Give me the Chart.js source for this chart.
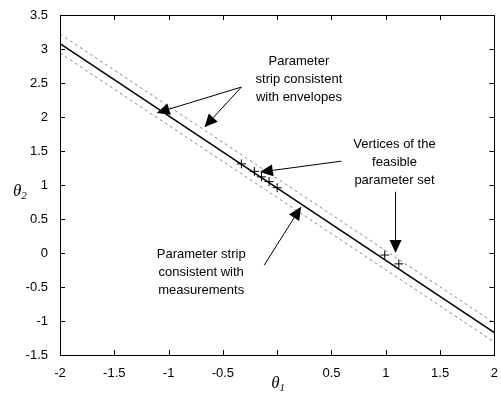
<!DOCTYPE html>
<html>
<head>
<meta charset="utf-8">
<script src="https://cdn.jsdelivr.net/npm/chart.js@4/dist/chart.umd.min.js"></script>
<style>
  html, body { margin: 0; padding: 0; background: #fff; }
  #wrap { width: 501px; height: 394px; }
</style>
</head>
<body>
<div id="wrap"><canvas id="chart" width="501" height="394"></canvas></div>
<script>
// Line end points (theta1 at -2 and 2)
const lineX = [-2, 2];
const centerLine = [3.08, -1.17];
const upperEnvelope = [3.22, -1.03];
const lowerEnvelope = [2.94, -1.31];

// Vertices of the feasible parameter set
const vertexX = [-0.33, -0.21, -0.145, -0.075, 0.0, 0.99, 1.12];
const vertexY = [1.31, 1.2, 1.12, 1.05, 0.96, -0.03, -0.16];

// Tick values and labels
const xTicks = [-2, -1.5, -1, -0.5, 0, 0.5, 1, 1.5, 2];
const xTickLabels = ['-2', '-1.5', '-1', '-0.5', '', '0.5', '1', '1.5', '2'];
const yTicks = [-1.5, -1, -0.5, 0, 0.5, 1, 1.5, 2, 2.5, 3, 3.5];
const yTickLabels = ['-1.5', '-1', '-0.5', '0', '0.5', '1', '1.5', '2', '2.5', '3', '3.5'];

// Text notes with arrows (data coordinates)
const notes = [
  { lines: ['Parameter', 'strip consistent', 'with envelopes'], x: 0.2, y: 2.81,
    arrows: [[-0.33, 2.44, -1.11, 2.06], [-0.33, 2.44, -0.67, 1.85]] },
  { lines: ['Vertices of the', 'feasible', 'parameter set'], x: 1.08, y: 1.59,
    arrows: [[0.59, 1.35, -0.16, 1.19], [1.09, 0.9, 1.09, 0.0]] },
  { lines: ['Parameter strip', 'consistent with', 'measurements'], x: -0.7, y: -0.02,
    arrows: [[-0.12, -0.18, 0.22, 0.68]] }
];

function toPoints(xs, ys) {
  return xs.map((x, i) => ({ x: x, y: ys[i] }));
}

function drawArrow(ctx, x1, y1, x2, y2) {
  const ang = Math.atan2(y2 - y1, x2 - x1);
  const len = 13, half = 6;
  const bx = x2 - len * Math.cos(ang), by = y2 - len * Math.sin(ang);
  ctx.beginPath();
  ctx.moveTo(x1, y1);
  ctx.lineTo(bx, by);
  ctx.stroke();
  ctx.beginPath();
  ctx.moveTo(x2, y2);
  ctx.lineTo(bx + half * Math.sin(ang), by - half * Math.cos(ang));
  ctx.lineTo(bx - half * Math.sin(ang), by + half * Math.cos(ang));
  ctx.closePath();
  ctx.fill();
}

// Box, inward ticks, notes and axis titles
const framePlugin = {
  id: 'frame',
  afterDraw(chart) {
    const ctx = chart.ctx;
    const a = chart.chartArea;
    const xs = chart.scales.x, ys = chart.scales.y;
    ctx.save();
    ctx.strokeStyle = '#000';
    ctx.lineWidth = 1;
    ctx.strokeRect(Math.round(a.left) + 0.5, Math.round(a.top) + 0.5,
      Math.round(a.right - a.left), Math.round(a.bottom - a.top));
    const t = 5;
    ctx.beginPath();
    xTicks.forEach(v => {
      const px = Math.round(xs.getPixelForValue(v)) + 0.5;
      ctx.moveTo(px, a.bottom); ctx.lineTo(px, a.bottom - t);
      ctx.moveTo(px, a.top); ctx.lineTo(px, a.top + t);
    });
    yTicks.forEach(v => {
      const py = Math.round(ys.getPixelForValue(v)) + 0.5;
      ctx.moveTo(a.left, py); ctx.lineTo(a.left + t, py);
      ctx.moveTo(a.right, py); ctx.lineTo(a.right - t, py);
    });
    ctx.stroke();

    // notes
    ctx.fillStyle = '#000';
    ctx.font = '13px "Liberation Sans", Arial, sans-serif';
    ctx.textAlign = 'center';
    ctx.textBaseline = 'middle';
    notes.forEach(n => {
      const cx = xs.getPixelForValue(n.x);
      const cy = ys.getPixelForValue(n.y);
      n.lines.forEach((line, i) => ctx.fillText(line, cx, cy + i * 18));
      n.arrows.forEach(ar => {
        drawArrow(ctx, xs.getPixelForValue(ar[0]), ys.getPixelForValue(ar[1]),
          xs.getPixelForValue(ar[2]), ys.getPixelForValue(ar[3]));
      });
    });

    // axis titles
    const drawTheta = (sub, x, y) => {
      ctx.textAlign = 'left';
      ctx.textBaseline = 'alphabetic';
      ctx.font = 'italic 17px "Liberation Serif", "Times New Roman", serif';
      ctx.fillText('\u03b8', x, y);
      const w = ctx.measureText('\u03b8').width;
      ctx.font = 'italic 11px "Liberation Serif", "Times New Roman", serif';
      ctx.fillText(sub, x + w, y + 3);
    };
    drawTheta('1', (a.left + a.right) / 2 - 6, a.bottom + 33);
    drawTheta('2', 13, ys.getPixelForValue(1) + 11);
    ctx.restore();
  }
};

const chart = new Chart(document.getElementById('chart'), {
  type: 'scatter',
  data: {
    datasets: [
      {
        data: toPoints(lineX, upperEnvelope),
        showLine: true, borderColor: '#8a8a8a', borderWidth: 1, borderDash: [3, 3],
        pointRadius: 0
      },
      {
        data: toPoints(lineX, lowerEnvelope),
        showLine: true, borderColor: '#8a8a8a', borderWidth: 1, borderDash: [3, 3],
        pointRadius: 0
      },
      {
        data: toPoints(lineX, centerLine),
        showLine: true, borderColor: '#000', borderWidth: 1.6,
        pointRadius: 0
      },
      {
        data: toPoints(vertexX, vertexY),
        showLine: false, pointStyle: 'cross', pointRadius: 4.5,
        borderColor: '#000', borderWidth: 1, backgroundColor: '#000'
      }
    ]
  },
  options: {
    responsive: false,
    animation: false,
    events: [],
    layout: { padding: { top: 15, right: 6, left: 0, bottom: 0 } },
    plugins: { legend: { display: false }, tooltip: { enabled: false } },
    scales: {
      x: {
        type: 'linear', min: -2, max: 2,
        afterBuildTicks: s => { s.ticks = xTicks.map(v => ({ value: v })); },
        afterFit: s => { s.height = 39; },
        grid: { display: false }, border: { display: false },
        ticks: {
          padding: 3, color: '#000', maxRotation: 0, autoSkip: false,
          font: { family: '"Liberation Sans", Arial, sans-serif', size: 13 },
          callback: v => xTickLabels[xTicks.indexOf(v)]
        }
      },
      y: {
        type: 'linear', min: -1.5, max: 3.5,
        afterBuildTicks: s => { s.ticks = yTicks.map(v => ({ value: v })); },
        afterFit: s => { s.width = 60; },
        grid: { display: false }, border: { display: false },
        ticks: {
          padding: 4, color: '#000', autoSkip: false,
          font: { family: '"Liberation Sans", Arial, sans-serif', size: 13 },
          callback: v => yTickLabels[yTicks.indexOf(v)]
        }
      }
    }
  },
  plugins: [framePlugin]
});
</script>
</body>
</html>
